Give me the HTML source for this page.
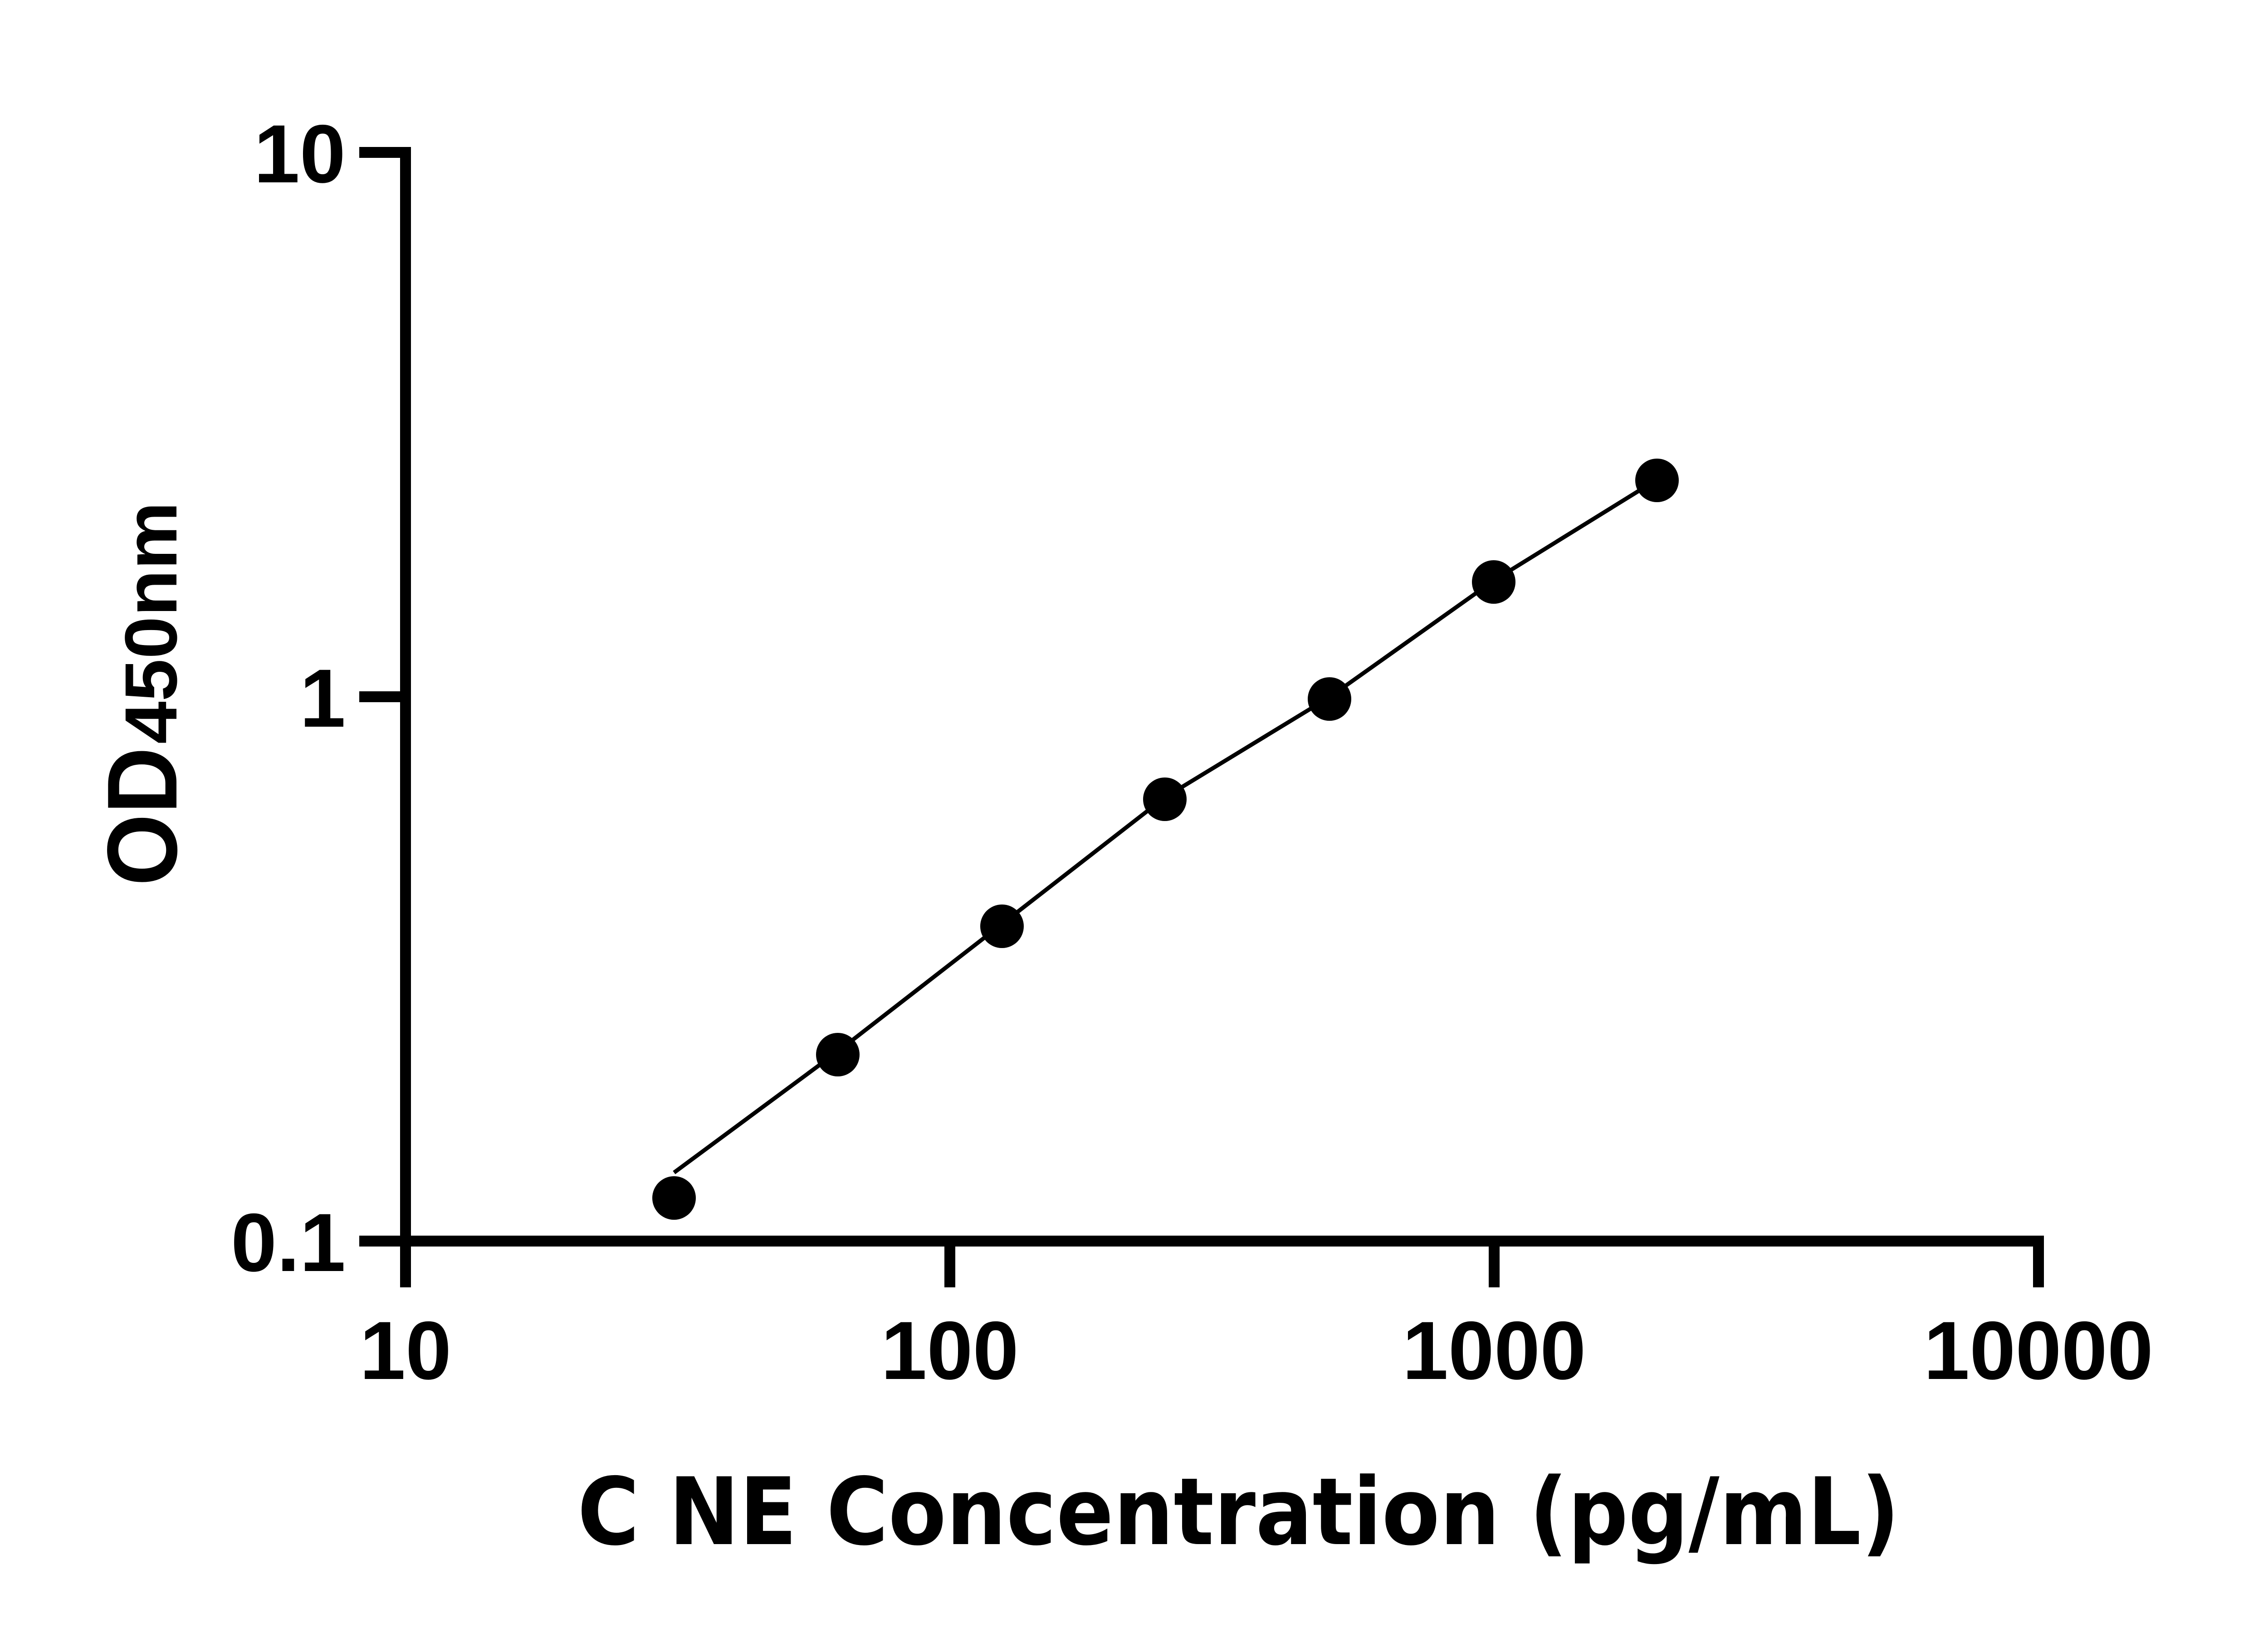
<!DOCTYPE html>
<html><head><meta charset="utf-8"><style>html,body{margin:0;padding:0;background:#fff;}svg{display:block;}
.a{font-family:"Liberation Sans",Arial,sans-serif;font-weight:bold;}
.t{font-family:"DejaVu Sans","Liberation Sans",sans-serif;font-weight:bold;}</style></head>
<body>
<svg width="5046" height="3600" viewBox="0 0 5046 3600" xmlns="http://www.w3.org/2000/svg">
<rect width="5046" height="3600" fill="#fff"/>
<g stroke="#000" stroke-width="24" fill="none" stroke-linecap="butt">
<line x1="894" y1="324" x2="894" y2="2838"/>
<line x1="792" y1="2736" x2="4506" y2="2736"/>
<line x1="792" y1="336" x2="906" y2="336"/>
<line x1="792" y1="1536" x2="906" y2="1536"/>
<line x1="2094" y1="2736" x2="2094" y2="2838"/>
<line x1="3294" y1="2736" x2="3294" y2="2838"/>
<line x1="4494" y1="2736" x2="4494" y2="2838"/>
</g>
<path d="M1486,2585 L1847,2318 L2209,2037 L2568,1758 L2931,1537 L3293,1280 L3613,1082" stroke="#000" stroke-width="9" fill="none"/>
<g fill="#000">
<circle cx="1486" cy="2641" r="48"/>
<circle cx="1847" cy="2325" r="48"/>
<circle cx="2209" cy="2042" r="48"/>
<circle cx="2568" cy="1762" r="48"/>
<circle cx="2931" cy="1541" r="48"/>
<circle cx="3293" cy="1283" r="48"/>
<circle cx="3653" cy="1059" r="48"/>
</g>
<g class="a" font-size="182" fill="#000">
<text x="762" y="402" text-anchor="end">10</text>
<text x="762" y="1602" text-anchor="end">1</text>
<text x="762" y="2802" text-anchor="end">0.1</text>
<text x="894" y="3040" text-anchor="middle">10</text>
<text x="2094" y="3040" text-anchor="middle">100</text>
<text x="3294" y="3040" text-anchor="middle">1000</text>
<text x="4494" y="3040" text-anchor="middle">10000</text>
</g>
<text class="t" x="1273" y="3404" font-size="205" textLength="2915" lengthAdjust="spacingAndGlyphs" fill="#000">C NE Concentration (pg/mL)</text>
<g transform="translate(389,1953) rotate(-90)" class="a" fill="#000">
<text x="0" y="0" font-size="219" textLength="306" lengthAdjust="spacingAndGlyphs">OD</text>
<text x="313" y="0" font-size="163" textLength="534" lengthAdjust="spacingAndGlyphs">450nm</text>
</g>
</svg>
</body></html>
